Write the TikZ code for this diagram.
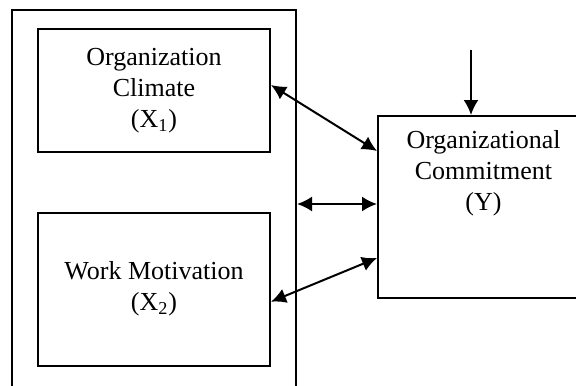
\documentclass[tikz,border=0pt]{standalone}
\usepackage{fontspec}
\setmainfont{Liberation Serif}
\usetikzlibrary{positioning}
\usetikzlibrary{arrows.meta}

\begin{document}
\begin{tikzpicture}[x=0.5pt, y=-0.5pt, line width=1pt,
	>={Latex[length=7.5pt,width=7.5pt]},
	varbox/.style={draw, align=center, font=\fontsize{13}{15.5}\selectfont}]
	\useasboundingbox (0,0) rectangle (576,385);
	\clip (0,0) rectangle (576,385);
	\node [draw, minimum width=142pt, minimum height=205pt] (outer) at (154,215) {};
	\node [varbox, minimum width=116pt, minimum height=61.5pt] (climate) at (154,90.5) {Organization\\Climate\\(X\textsubscript{1})};
	\node [varbox, minimum width=116pt, minimum height=76.5pt] (motiv) at (154,289) {Work Motivation\\(X\textsubscript{2})};
	\node [draw, minimum width=105.5pt, minimum height=91pt, anchor=north west] (commit) at (377,115) {};
	\node [varbox, draw=none, below=3.7pt of commit.north] (committxt) {Organizational\\Commitment\\(Y)};
	\coordinate (top) at (471,50);
	\draw [->] (top) -- (top |- commit.north);
	\draw [<->] ([yshift=2.75pt]climate.east) -- ([yshift=-18pt]commit.north west);
	\draw [<->] ([yshift=1.5pt]commit.west -| outer.east) -- ([yshift=1.5pt]commit.west);
	\draw [<->] ([yshift=-25.5pt]commit.west) -- ([yshift=-6.35pt]motiv.east);
\end{tikzpicture}
\end{document}
